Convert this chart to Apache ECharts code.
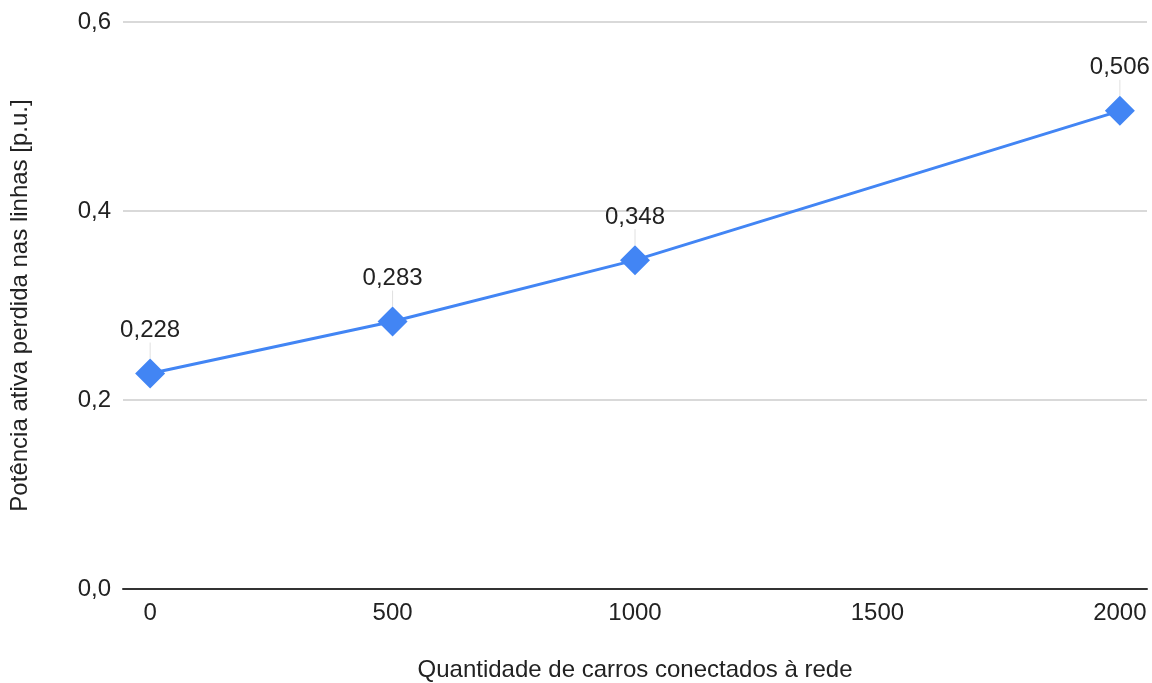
<!DOCTYPE html>
<html>
<head>
<meta charset="utf-8">
<script src="https://cdn.jsdelivr.net/npm/echarts@6/dist/echarts.min.js"></script>
<style>
  html, body { margin: 0; padding: 0; background: #fff; overflow: hidden; }
  #chart { width: 1152px; height: 683px; }
</style>
</head>
<body>
<div id="chart"></div>
<script>
// Carros conectados (eixo x) e perda de potência ativa (eixo y)
const carros = [0, 500, 1000, 2000];
const perdas = [0.228, 0.283, 0.348, 0.506];
const xTicks = [0, 500, 1000, 1500, 2000];
const yTicks = [0, 0.2, 0.4, 0.6];

const fmt = (v, d) => v.toFixed(d).replace('.', ',');
const FONT = '"Liberation Sans", Arial, sans-serif';
const FS = 24;

const chart = echarts.init(document.getElementById('chart'), null, { renderer: 'canvas' });
chart.setOption({
  animation: false,
  backgroundColor: '#ffffff',
  textStyle: { fontFamily: FONT },
  grid: { left: 123, right: 5, top: 22, bottom: 94, containLabel: false, outerBoundsMode: 'none' },
  xAxis: {
    type: 'value',
    min: -56,
    max: 2056,
    name: 'Quantidade de carros conectados à rede',
    nameLocation: 'middle',
    nameGap: 69,
    nameTextStyle: { fontSize: FS, color: '#222', fontFamily: FONT },
    axisLine: { show: true, lineStyle: { color: '#333', width: 2 } },
    axisTick: { show: false },
    splitLine: { show: false },
    axisLabel: {
      customValues: xTicks,
      formatter: v => String(v),
      fontSize: FS, color: '#222', margin: 12, fontFamily: FONT
    }
  },
  yAxis: {
    type: 'value',
    min: 0,
    max: 0.6,
    interval: 0.2,
    name: 'Potência ativa perdida nas linhas [p.u.]',
    nameLocation: 'middle',
    nameGap: 91,
    nameTextStyle: { fontSize: FS, color: '#222', fontFamily: FONT },
    axisLine: { show: false },
    axisTick: { show: false },
    splitLine: { show: true, lineStyle: { color: '#cccccc', width: 1.5 } },
    axisLabel: {
      customValues: yTicks,
      formatter: v => fmt(v, 1),
      fontSize: FS, color: '#222', margin: 12, fontFamily: FONT
    }
  },
  series: [{
    type: 'line',
    data: carros.map((c, i) => [c, perdas[i]]),
    symbol: 'diamond',
    symbolSize: 30,
    lineStyle: { color: '#4285F4', width: 3 },
    itemStyle: { color: '#4285F4' },
    label: {
      show: true,
      position: 'top',
      distance: 8,
      formatter: p => fmt(p.value[1], 3),
      fontSize: FS, color: '#222', fontFamily: FONT
    },
    labelLayout: { dy: -8 },
    labelLine: { show: true, lineStyle: { color: '#e0e0e0', width: 1 } },
    z: 3
  }]
});
</script>
</body>
</html>
